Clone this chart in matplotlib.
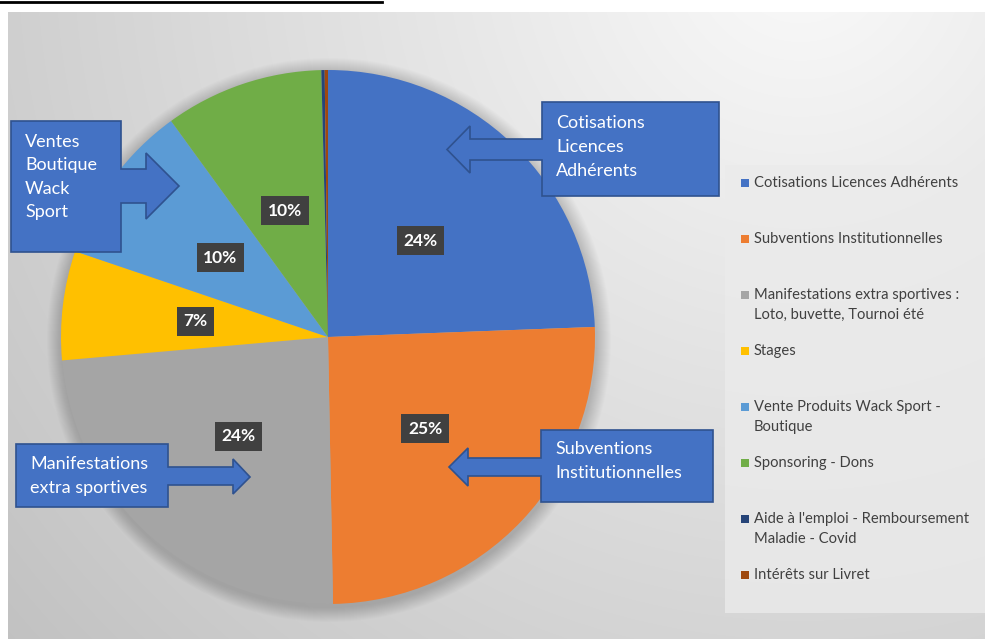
import numpy as np
import matplotlib.pyplot as plt
from matplotlib.patches import Polygon, Rectangle, Circle

plt.rcParams['font.family'] = ['Lato', 'DejaVu Sans']

# données (parts en %)
categories = ["Cotisations Licences Adhérents",
              "Subventions Institutionnelles",
              "Manifestations extra sportives :\nLoto, buvette, Tournoi été",
              "Stages",
              "Vente Produits Wack Sport -\nBoutique",
              "Sponsoring - Dons",
              "Aide à l'emploi - Remboursement\nMaladie - Covid",
              "Intérêts sur Livret"]
shares = [24.4, 25.3, 23.9, 6.6, 9.8, 9.6, 0.2, 0.2]
colors = ["#4472C4", "#ED7D31", "#A5A5A5", "#FFC000",
          "#5B9BD5", "#70AD47", "#264478", "#9E480E"]

callout_texts = ["Cotisations\nLicences\nAdhérents",
                 "Subventions\nInstitutionnelles",
                 "Ventes\nBoutique\nWack\nSport",
                 "Manifestations\nextra sportives"]

W, H = 985, 639


def p(x, y):
    # pixel (y vers le bas) -> coordonnées axes (y vers le haut)
    return (x, H - y)


fig = plt.figure(figsize=(W / 100, H / 100), dpi=100)
ax = fig.add_axes([0, 0, 1, 1])

# fond dégradé gris
xs = np.arange(8, W)
ys = np.arange(12, H)
gx, gy = np.meshgrid(xs, ys)
d = np.sqrt((gx - 800) ** 2 + (gy + 50) ** 2)
v = np.clip(0.98 - 0.21 * d / 1000, 0, 1)
ax.imshow(np.dstack([v, v, v]), extent=(8, W, 0, H - 12), origin='upper',
          zorder=0, aspect='auto')

# trait en haut
ax.plot([0, 382], [H - 1.5, H - 1.5], color='black', lw=2, zorder=1)

cx, cy, r = 328, 337, 267

# ombre douce du camembert
for k in range(1, 16):
    ax.add_patch(Circle(p(cx + 1, cy + 3), r + k, color='black', alpha=0.012,
                        lw=0, zorder=1))

wedges, texts, autotexts = ax.pie(
    shares, colors=colors, startangle=90, counterclock=False,
    center=p(cx, cy), radius=r, pctdistance=0.5,
    autopct=lambda pc: f'{pc:.0f}%' if pc >= 1 else '',
    textprops=dict(color='white', fontweight='bold', fontsize=12.5),
    wedgeprops=dict(linewidth=0), frame=True)
for w in wedges:
    w.set_zorder(2)
for t in autotexts:
    t.set_zorder(5)
    if t.get_text():
        t.set_bbox(dict(boxstyle='square,pad=0.38', fc='#404040', ec='none'))

# flèches (formes de légende)
callouts = [
    [(719, 102), (542, 102), (542, 139), (470, 139), (470, 126), (447, 149.5),
     (470, 173), (470, 160), (542, 160), (542, 196), (719, 196)],
    [(713, 430), (541, 430), (541, 458), (468, 458), (468, 448), (449, 467),
     (468, 486), (468, 476), (541, 476), (541, 502), (713, 502)],
    [(11, 121), (121, 121), (121, 169), (146, 169), (146, 153), (179, 186),
     (146, 219), (146, 203), (121, 203), (121, 252), (11, 252)],
    [(16, 444), (168, 444), (168, 467), (233, 467), (233, 459), (250, 477),
     (233, 494), (233, 485), (168, 485), (168, 507), (16, 507)],
]
text_pos = [(556, 147), (555, 461), (25, 177), (30, 476)]
for pts, txt, (tx, ty) in zip(callouts, callout_texts, text_pos):
    ax.add_patch(Polygon([p(x, y) for x, y in pts], closed=True,
                         fc='#4472C4', ec='#2F528F', lw=1.2, zorder=6))
    ax.text(*p(tx, ty), txt, color='white', fontsize=13, ha='left',
            va='center', linespacing=1.58, zorder=7)

# légende
ax.add_patch(Rectangle(p(725, 613), 262, 448, fc='#ebebeb', ec='none',
                       alpha=0.8, zorder=3))
for i, (lab, col) in enumerate(zip(categories, colors)):
    y0 = 183 + 56 * i
    ax.add_patch(Rectangle(p(741, y0 + 4), 8, 8, fc=col, ec='none', zorder=4))
    for j, line in enumerate(lab.split('\n')):
        ax.text(*p(754, y0 + 20 * j), line, fontsize=10.6, color='#404040',
                ha='left', va='center', zorder=4)

ax.set_xlim(0, W)
ax.set_ylim(0, H)
ax.set_aspect('auto')
ax.axis('off')

fig.savefig('out.png', dpi=100, facecolor='white')
